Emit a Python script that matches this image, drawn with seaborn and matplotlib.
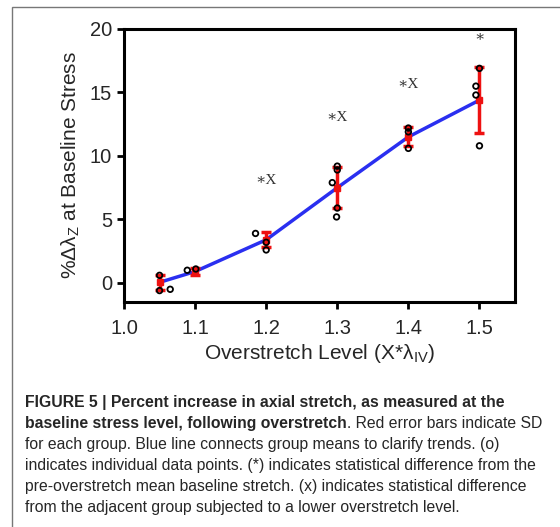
import numpy as np
import matplotlib
matplotlib.use('Agg')
import matplotlib.pyplot as plt
import matplotlib.patches as mpatches
import pandas as pd
import seaborn as sns

# group means / SD
levels = [1.05, 1.1, 1.2, 1.3, 1.4, 1.5]
means = [0.05, 0.9, 3.4, 7.5, 11.5, 14.4]
sds = [0.6, 0.25, 0.6, 1.6, 0.75, 2.6]

# individual data points
pt_x = [1.05, 1.05, 1.065, 1.089, 1.101, 1.185, 1.2, 1.2,
        1.3, 1.3, 1.293, 1.3, 1.299, 1.4, 1.4, 1.4,
        1.5, 1.495, 1.495, 1.5]
pt_y = [0.6, -0.6, -0.5, 1.0, 1.1, 3.9, 3.2, 2.6,
        9.2, 8.9, 7.9, 5.9, 5.2, 12.2, 11.9, 10.6,
        16.9, 15.5, 14.8, 10.8]

# significance marks
sig_x = [1.2, 1.3, 1.4, 1.5]
sig_y = [8.1, 13.0, 15.6, 19.4]
sig_txt = ['\u2217X', '\u2217X', '\u2217X', '\u2217']

xticks = [1.0, 1.1, 1.2, 1.3, 1.4, 1.5]
yticks = [0, 5, 10, 15, 20]

sns.set_style('ticks')
plt.rcParams['font.family'] = ['Liberation Sans', 'DejaVu Sans']
plt.rcParams['mathtext.fontset'] = 'custom'
plt.rcParams['mathtext.rm'] = 'Liberation Sans'
plt.rcParams['mathtext.it'] = 'Liberation Sans:italic'

df_mean = pd.DataFrame({'level': levels, 'mean': means})
df_pts = pd.DataFrame({'level': pt_x, 'val': pt_y})

fig = plt.figure(figsize=(5.6, 5.27), dpi=100)
ax = fig.add_axes([124 / 560, 1 - 302 / 527, (515 - 124) / 560, (302 - 29) / 527])

sns.lineplot(data=df_mean, x='level', y='mean', ax=ax, color='#2a2ff0',
             linewidth=2.5, zorder=2)
ax.errorbar(levels, means, yerr=sds, fmt='s', color='#ee1111', ms=5,
            elinewidth=2.5, capsize=3.5, capthick=2.5, zorder=3)
sns.scatterplot(data=df_pts, x='level', y='val', ax=ax, marker='o', s=16,
                facecolor='none', edgecolor='black', linewidth=1.3, zorder=4)

for x, y, t in zip(sig_x, sig_y, sig_txt):
    ax.text(x, y, t, ha='center', va='center', fontsize=11, color='#333333',
            family=['Liberation Serif', 'DejaVu Serif'])

ax.set_xlim(1.0, 1.55)
ax.set_ylim(-1.5, 20)
ax.set_xticks(xticks)
ax.set_yticks(yticks)
ax.set_xticklabels(['%.1f' % v for v in xticks])
ax.tick_params(labelsize=14.5, width=2, length=5, color='black')
ax.tick_params(axis='x', pad=7)
for s in ax.spines.values():
    s.set_linewidth(2.2)
    s.set_color('black')
ax.set_xlabel('Overstretch Level (X*\u03bb$_\\mathrm{IV}$)', fontsize=15, labelpad=3)
ax.set_ylabel('%\u0394\u03bb$_\\mathrm{Z}$ at Baseline Stress', fontsize=15, labelpad=6)

# outer frame of the figure panel
frame = mpatches.Rectangle((12 / 560, -0.1), 1.2, 1.1 - 7 / 527,
                           transform=fig.transFigure, fill=False,
                           edgecolor='#777777', linewidth=1, clip_on=False)
fig.patches.append(frame)

# caption
cap_lines = [
    ('FIGURE 5 | Percent increase in axial stretch, as measured at the', ''),
    ('baseline stress level, following overstretch', '. Red error bars indicate SD'),
    ('', 'for each group. Blue line connects group means to clarify trends. (o)'),
    ('', 'indicates individual data points. (*) indicates statistical difference from the'),
    ('', 'pre-overstretch mean baseline stretch. (x) indicates statistical difference'),
    ('', 'from the adjacent group subjected to a lower overstretch level.'),
]
fs = 11.3
y0 = 1 - 410 / 527
dy = 21 / 527
for i, (b, r) in enumerate(cap_lines):
    yy = y0 - i * dy
    if b:
        tb = fig.text(25 / 560, yy, b, fontsize=fs, fontweight='bold', va='bottom')
        if r:
            ax.annotate(r, xy=(1, 0), xycoords=tb, fontsize=fs, va='bottom',
                        ha='left', annotation_clip=False)
    else:
        fig.text(25 / 560, yy, r, fontsize=fs, va='bottom')

fig.savefig('out.png', dpi=100)
